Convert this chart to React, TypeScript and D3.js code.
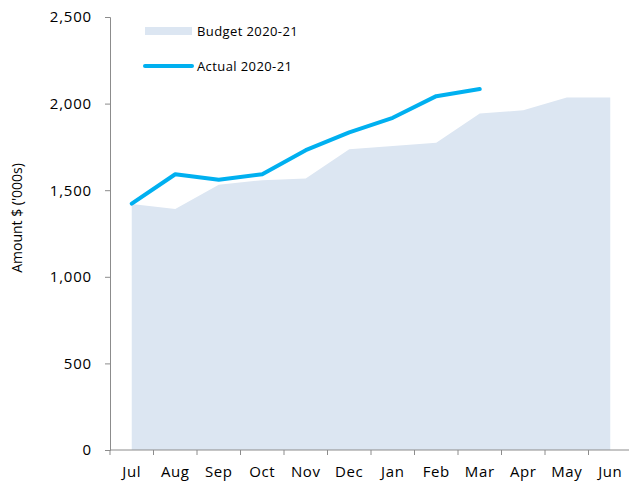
import React, { useEffect, useRef } from 'react';
import * as d3 from 'd3';

const months = ['Jul', 'Aug', 'Sep', 'Oct', 'Nov', 'Dec', 'Jan', 'Feb', 'Mar', 'Apr', 'May', 'Jun'];
const budget = [1420, 1392, 1532, 1558, 1567, 1737, 1755, 1774, 1943, 1961, 2035, 2035];
const actual = [1422, 1592, 1560, 1592, 1731, 1834, 1918, 2043, 2084];
const yTicks = [0, 500, 1000, 1500, 2000, 2500];

export default function App() {
    const ref = useRef<SVGSVGElement>(null);

    useEffect(() => {
        const width = 629, height = 484;
        const left = 110, right = 632, top = 17, bottom = 450;
        const font = '"Open Sans", sans-serif';

        const svg = d3.select(ref.current);
        svg.selectAll('*').remove();

        const x = d3.scaleBand<string>().domain(months).range([left, right]);
        const cx = (m: string) => (x(m) as number) + x.bandwidth() / 2;
        const y = d3.scaleLinear().domain([0, 2500]).range([bottom, top]);

        // budget area
        const area = d3.area<number>()
            .x((d, i) => cx(months[i]))
            .y0(y(0))
            .y1(d => y(d));
        svg.append('path')
            .attr('d', area(budget))
            .attr('fill', '#dce6f2');

        // y axis
        const yAxis = svg.append('g')
            .attr('transform', `translate(${left},0)`)
            .call(d3.axisLeft(y).tickValues(yTicks).tickSize(5).tickPadding(13).tickFormat(d3.format(',')));
        yAxis.select('.domain').attr('stroke', '#8c8c8c');
        yAxis.selectAll('.tick line').attr('stroke', '#8c8c8c');
        yAxis.selectAll('.tick text')
            .style('font-family', font)
            .style('font-size', '15px')
            .style('letter-spacing', '0.8px')
            .attr('fill', '#000');

        // x axis: ticks at category boundaries
        const boundaries = months.map(m => x(m) as number);
        const xAxis = svg.append('g').attr('transform', `translate(0,${bottom})`);
        xAxis.append('line')
            .attr('x1', left).attr('x2', right)
            .attr('stroke', '#8c8c8c');
        xAxis.selectAll('line.tick')
            .data(boundaries)
            .enter()
            .append('line')
            .attr('class', 'tick')
            .attr('x1', d => d).attr('x2', d => d)
            .attr('y1', 0).attr('y2', 5)
            .attr('stroke', '#8c8c8c');
        xAxis.selectAll('text')
            .data(months)
            .enter()
            .append('text')
            .attr('x', d => cx(d))
            .attr('y', 27)
            .attr('text-anchor', 'middle')
            .style('font-family', font)
            .style('font-size', '15px')
            .style('letter-spacing', '0.6px')
            .attr('fill', '#000')
            .text(d => d);

        // actual line
        const line = d3.line<number>()
            .x((d, i) => cx(months[i]))
            .y(d => y(d));
        svg.append('path')
            .attr('d', line(actual))
            .attr('fill', 'none')
            .attr('stroke', '#00b0f0')
            .attr('stroke-width', 4)
            .attr('stroke-linecap', 'round')
            .attr('stroke-linejoin', 'round');

        // axis title
        svg.append('text')
            .attr('transform', `translate(22,218) rotate(-90)`)
            .attr('text-anchor', 'middle')
            .style('font-family', font)
            .style('font-size', '14px')
            .text("Amount $ ('000s)");

        // legend
        svg.append('rect')
            .attr('x', 145).attr('y', 27)
            .attr('width', 47).attr('height', 8)
            .attr('fill', '#dce6f2');
        svg.append('text')
            .attr('x', 197).attr('y', 36)
            .style('font-family', font)
            .style('font-size', '13px')
            .style('letter-spacing', '0.4px')
            .text('Budget 2020-21');
        svg.append('line')
            .attr('x1', 145).attr('x2', 192)
            .attr('y1', 66).attr('y2', 66)
            .attr('stroke', '#00b0f0')
            .attr('stroke-width', 4)
            .attr('stroke-linecap', 'round');
        svg.append('text')
            .attr('x', 197).attr('y', 71)
            .style('font-family', font)
            .style('font-size', '13px')
            .style('letter-spacing', '0.4px')
            .text('Actual 2020-21');

        svg.attr('width', width).attr('height', height);
    }, []);

    return <svg ref={ref} style={{ position: 'absolute', left: 0, top: 0 }} />;
}
